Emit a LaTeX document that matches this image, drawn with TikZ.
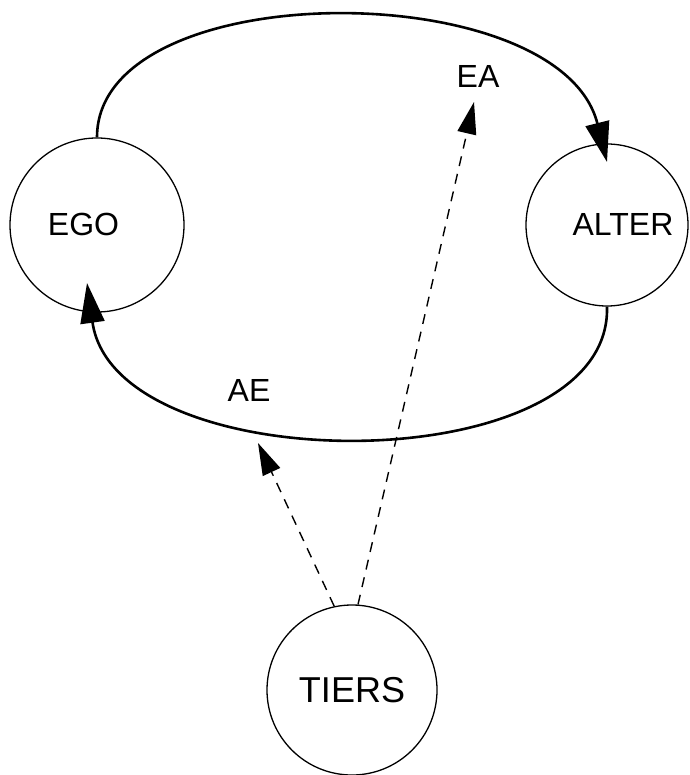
\documentclass[tikz,border=0pt]{standalone}
\usepackage{fontspec}
\setmainfont{Liberation Sans}
\usetikzlibrary{arrows.meta}
\begin{document}
\begin{tikzpicture}[x=1pt,y=-1pt,
  actor/.style={circle,draw,line width=1.3pt,inner sep=0pt},
  lbl/.style={inner sep=0pt,font=\fontsize{32}{38}\selectfont},
  flow/.style={line width=2.6pt,-{Triangle[length=40pt,width=24pt]}},
  hint/.style={line width=1.4pt,dash pattern=on 10pt off 8pt,-{Triangle[length=32pt,width=19pt]}}]
\useasboundingbox (0,0) rectangle (689,775);
\node[actor,minimum size=174pt] (ego) at (97,225) {};
\node[actor,minimum size=162pt] (alter) at (607,225) {};
\node[actor,minimum size=170pt] (tiers) at (352,690) {};
\node[lbl] (egot) at (83.5,224) {EGO};
\node[lbl] (altert) at (623,224) {ALTER};
\node[lbl,font=\fontsize{36}{42}\selectfont] (tierst) at (352,690) {TIERS};
\node[lbl] (ea) at (478,76) {EA};
\node[lbl] (ae) at (249,390) {AE};
\coordinate (altin) at (607,162);
\coordinate (egoin) at (87,283);
\coordinate (aetip) at (258,443);
\coordinate (eatip) at (474,102);
\draw[flow] (ego.north) .. controls (97,-26) and (560,-26) .. (altin);
\draw[flow] (alter.south) .. controls (612,483) and (115,483) .. (egoin);
\draw[hint] (tiers.102) -- (aetip);
\draw[hint] (tiers.86) -- (eatip);
\end{tikzpicture}
\end{document}
